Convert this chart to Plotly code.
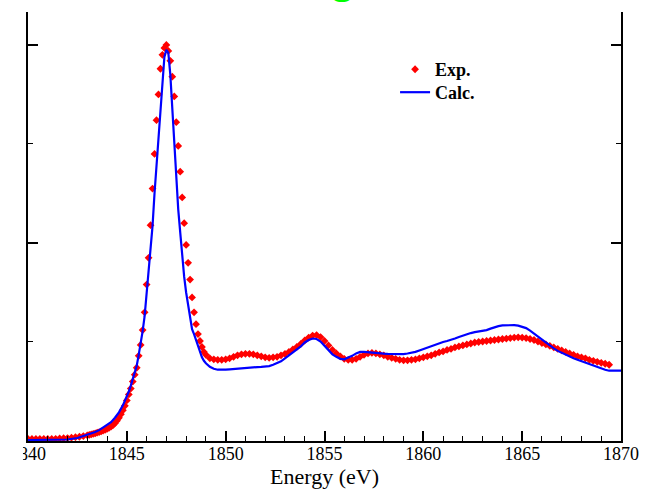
import plotly.graph_objects as go

# ---------------- data ----------------
exp_energy = [
    1840.0, 1840.2, 1840.4, 1840.6, 1840.8, 1841.0, 1841.2, 1841.4, 1841.6, 1841.8,
    1842.0, 1842.2, 1842.4, 1842.6, 1842.8,
    1843.0, 1843.1, 1843.2, 1843.3, 1843.4, 1843.5, 1843.6, 1843.7, 1843.8, 1843.9,
    1844.0, 1844.1, 1844.2, 1844.3, 1844.4, 1844.5, 1844.6, 1844.7, 1844.8, 1844.9,
    1845.0, 1845.1, 1845.2, 1845.3, 1845.4, 1845.5, 1845.6, 1845.7, 1845.8, 1845.9,
    1846.0, 1846.1, 1846.2, 1846.3, 1846.4, 1846.5, 1846.6, 1846.7, 1846.8, 1846.9,
    1847.0, 1847.1, 1847.2, 1847.3, 1847.4, 1847.5, 1847.6, 1847.7, 1847.8, 1847.9,
    1848.0, 1848.1, 1848.2, 1848.3, 1848.4, 1848.5, 1848.6, 1848.7, 1848.8, 1848.9,
    1849.0, 1849.2, 1849.4, 1849.6, 1849.8, 1850.0, 1850.2, 1850.4, 1850.6, 1850.8,
    1851.0, 1851.2, 1851.4, 1851.6, 1851.8, 1852.0, 1852.2, 1852.4, 1852.6, 1852.8,
    1853.0, 1853.2, 1853.4, 1853.6, 1853.8, 1854.0, 1854.2, 1854.4, 1854.6, 1854.8,
    1855.0, 1855.2, 1855.4, 1855.6, 1855.8, 1856.0, 1856.2, 1856.4, 1856.6, 1856.8,
    1857.0, 1857.2, 1857.4, 1857.6, 1857.8, 1858.0, 1858.2, 1858.4, 1858.6, 1858.8,
    1859.0, 1859.2, 1859.4, 1859.6, 1859.8, 1860.0, 1860.2, 1860.4, 1860.6, 1860.8,
    1861.0, 1861.2, 1861.4, 1861.6, 1861.8, 1862.0, 1862.2, 1862.4, 1862.6, 1862.8,
    1863.0, 1863.2, 1863.4, 1863.6, 1863.8, 1864.0, 1864.2, 1864.4, 1864.6, 1864.8,
    1865.0, 1865.2, 1865.4, 1865.6, 1865.8, 1866.0, 1866.2, 1866.4, 1866.6, 1866.8,
    1867.0, 1867.2, 1867.4, 1867.6, 1867.8, 1868.0, 1868.2, 1868.4, 1868.6, 1868.8,
    1869.0, 1869.2, 1869.4,
]
exp_absorb = [
    0.020, 0.020, 0.020, 0.020, 0.020, 0.020, 0.020, 0.022, 0.025, 0.028,
    0.030, 0.034, 0.038, 0.043, 0.050,
    0.057, 0.062, 0.067, 0.072, 0.078, 0.084, 0.090, 0.097, 0.105, 0.113,
    0.122, 0.133, 0.145, 0.160, 0.180, 0.205, 0.235, 0.270, 0.310, 0.355,
    0.410, 0.470, 0.530, 0.600, 0.670, 0.740, 0.860, 0.970, 1.120, 1.300,
    1.580, 1.850, 2.180, 2.550, 2.900, 3.240, 3.500, 3.760, 3.900, 3.970,
    4.000, 3.940, 3.840, 3.680, 3.480, 3.220, 2.980, 2.720, 2.460, 2.200,
    1.980, 1.800, 1.630, 1.450, 1.300, 1.180, 1.080, 1.010, 0.950, 0.900,
    0.870, 0.835, 0.825, 0.820, 0.820, 0.825, 0.835, 0.850, 0.865, 0.875,
    0.880, 0.880, 0.875, 0.865, 0.855, 0.845, 0.840, 0.845, 0.850, 0.865,
    0.880, 0.900, 0.925, 0.950, 0.980, 1.015, 1.045, 1.065, 1.070, 1.050,
    1.010, 0.965, 0.920, 0.885, 0.855, 0.830, 0.820, 0.820, 0.830, 0.850,
    0.870, 0.885, 0.890, 0.885, 0.875, 0.865, 0.850, 0.840, 0.830, 0.820,
    0.815, 0.815, 0.820, 0.825, 0.835, 0.845, 0.855, 0.865, 0.880, 0.895,
    0.905, 0.920, 0.930, 0.945, 0.955, 0.965, 0.975, 0.985, 0.995, 1.000,
    1.005, 1.010, 1.015, 1.020, 1.025, 1.030, 1.035, 1.040, 1.045, 1.047,
    1.045, 1.040, 1.030, 1.020, 1.005, 0.990, 0.975, 0.960, 0.945, 0.930,
    0.915, 0.900, 0.885, 0.870, 0.855, 0.845, 0.835, 0.820, 0.810, 0.800,
    0.790, 0.780, 0.770,
]

calc_energy = [
    1840.0, 1840.5, 1841.0, 1841.5, 1842.0, 1842.5,
    1843.0, 1843.2, 1843.4, 1843.6, 1843.8, 1844.0, 1844.2, 1844.4, 1844.6, 1844.8,
    1845.0, 1845.1, 1845.2, 1845.3, 1845.4, 1845.5, 1845.6, 1845.7, 1845.8, 1845.9,
    1846.0, 1846.1, 1846.2, 1846.3, 1846.4, 1846.5, 1846.6, 1846.7, 1846.8, 1846.9,
    1847.0, 1847.1, 1847.2, 1847.3, 1847.4, 1847.5, 1847.6, 1847.7, 1847.8, 1847.9,
    1848.0, 1848.1, 1848.2, 1848.3, 1848.4, 1848.5, 1848.6, 1848.7, 1848.8, 1848.9,
    1849.0, 1849.2, 1849.4, 1849.6, 1849.8, 1850.0, 1850.2, 1850.4, 1850.6, 1850.8,
    1851.0, 1851.2, 1851.4, 1851.6, 1851.8, 1852.0, 1852.2, 1852.4, 1852.6, 1852.8,
    1853.0, 1853.2, 1853.4, 1853.6, 1853.8, 1854.0, 1854.2, 1854.4, 1854.6, 1854.8,
    1855.0, 1855.2, 1855.4, 1855.6, 1855.8, 1856.0, 1856.2, 1856.4, 1856.6, 1856.8,
    1857.0, 1857.2, 1857.4, 1857.6, 1857.8, 1858.0, 1858.2, 1858.4, 1858.6, 1858.8,
    1859.0, 1859.2, 1859.4, 1859.6, 1859.8, 1860.0, 1860.2, 1860.4, 1860.6, 1860.8,
    1861.0, 1861.2, 1861.4, 1861.6, 1861.8, 1862.0, 1862.2, 1862.4, 1862.6, 1862.8,
    1863.0, 1863.2, 1863.4, 1863.6, 1863.8, 1864.0, 1864.2, 1864.4, 1864.6, 1864.8,
    1865.0, 1865.2, 1865.4, 1865.6, 1865.8, 1866.0, 1866.2, 1866.4, 1866.6, 1866.8,
    1867.0, 1867.2, 1867.4, 1867.6, 1867.8, 1868.0, 1868.2, 1868.4, 1868.6, 1868.8,
    1869.0, 1869.2, 1869.4, 1869.6, 1870.0,
]
calc_absorb = [
    0.010, 0.010, 0.010, 0.010, 0.015, 0.030,
    0.060, 0.075, 0.090, 0.110, 0.135, 0.160, 0.190, 0.235, 0.290, 0.360,
    0.450, 0.500, 0.560, 0.630, 0.700, 0.760, 0.870, 0.980, 1.110, 1.260,
    1.470, 1.690, 1.920, 2.170, 2.500, 2.770, 3.110, 3.400, 3.680, 3.880,
    3.950, 3.920, 3.700, 3.340, 2.980, 2.640, 2.340, 2.110, 1.860, 1.660,
    1.500, 1.370, 1.230, 1.130, 1.080, 1.020, 0.950, 0.890, 0.845, 0.810,
    0.785, 0.750, 0.730, 0.720, 0.717, 0.720, 0.724, 0.728, 0.732, 0.736,
    0.740, 0.744, 0.746, 0.747, 0.748, 0.750, 0.756, 0.770, 0.785, 0.805,
    0.835, 0.865, 0.895, 0.925, 0.955, 0.995, 1.020, 1.035, 1.030, 1.005,
    0.960, 0.915, 0.875, 0.850, 0.830, 0.825, 0.840, 0.860, 0.885, 0.900,
    0.900, 0.895, 0.890, 0.888, 0.885, 0.882, 0.880, 0.878, 0.876, 0.875,
    0.878, 0.884, 0.890, 0.900, 0.915, 0.930, 0.945, 0.960, 0.975, 0.990,
    1.000, 1.010, 1.020, 1.035, 1.050, 1.065, 1.080, 1.090, 1.100, 1.105,
    1.110, 1.120, 1.135, 1.150, 1.160, 1.168, 1.170, 1.170, 1.170, 1.165,
    1.155, 1.140, 1.115, 1.085, 1.050, 1.020, 0.990, 0.960, 0.935, 0.910,
    0.890, 0.872, 0.855, 0.835, 0.820, 0.805, 0.790, 0.775, 0.760, 0.745,
    0.730, 0.720, 0.710, 0.710, 0.710,
]

x_tick_values = [1840, 1845, 1850, 1855, 1860, 1865, 1870]
x_tick_labels = ["1840", "1845", "1850", "1855", "1860", "1865", "1870"]

SERIF = "Liberation Serif, Times New Roman, serif"
legend_font = dict(family=SERIF, size=18, color="black", weight="bold")

fig = go.Figure()
fig.add_trace(go.Scatter(
    x=exp_energy, y=exp_absorb, mode="markers", name="Exp.", legend="legend",
    marker=dict(symbol="diamond", size=6, color="#ff0000", line=dict(width=0)),
))
fig.add_trace(go.Scatter(
    x=calc_energy, y=calc_absorb, mode="lines", name="Calc.", legend="legend2",
    line=dict(color="#0000ff", width=2.2),
))

fig.update_layout(
    width=656, height=490,
    margin=dict(l=28, r=35, t=12, b=49, pad=0),
    paper_bgcolor="white", plot_bgcolor="white",
    showlegend=True,
    legend=dict(
        x=0.619, y=0.909, xanchor="left", yanchor="top",
        font=legend_font, bgcolor="rgba(0,0,0,0)", borderwidth=0,
    ),
    legend2=dict(
        x=0.619, y=0.8555, xanchor="left", yanchor="top",
        font=legend_font, bgcolor="rgba(0,0,0,0)", borderwidth=0,
    ),
    xaxis=dict(
        range=[1840, 1870], tickmode="array", tickvals=x_tick_values, ticktext=x_tick_labels,
        ticks="inside", ticklen=10, tickwidth=1.5, tickcolor="black",
        minor=dict(dtick=1, tick0=1840, ticks="inside", ticklen=5, tickwidth=1, tickcolor="black"),
        showline=True, linewidth=2, linecolor="black", mirror=False,
        showgrid=False, zeroline=False, automargin=False,
        ticklabelstandoff=-5,
        tickfont=dict(family=SERIF, size=18, color="black"),
        title=dict(text="Energy (eV)", font=dict(family=SERIF, size=22, color="black"), standoff=0),
    ),
    yaxis=dict(
        range=[0, 4.333], tick0=0, dtick=2,
        ticks="inside", ticklen=10, tickwidth=1.5, tickcolor="black",
        minor=dict(dtick=1, ticks="inside", ticklen=5, tickwidth=1, tickcolor="black"),
        showticklabels=False, automargin=False,
        showline=True, linewidth=2, linecolor="black", mirror="ticks",
        showgrid=False, zeroline=False,
    ),
    annotations=[dict(
        text="<b>g</b>", xref="paper", yref="paper", x=0.531, y=1.0175,
        xanchor="center", yanchor="bottom", showarrow=False,
        font=dict(family="Liberation Sans, Arial, sans-serif", size=44, color="#00ff00"),
    )],
    shapes=[dict(
        type="rect", xref="paper", yref="paper", layer="above",
        x0=-0.0472, x1=-0.0085, y0=-0.075, y1=-0.006,
        fillcolor="white", line=dict(width=0),
    )],
)

fig.write_html("out.html")
